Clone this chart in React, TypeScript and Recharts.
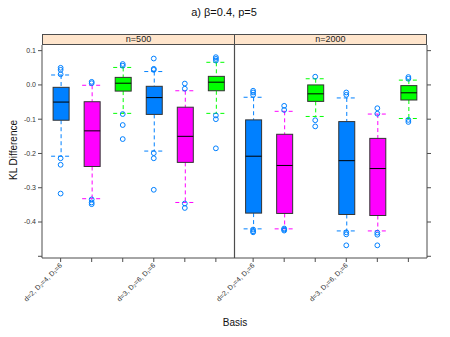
import React from 'react';
import { ComposedChart, Bar, Scatter, XAxis, YAxis, ReferenceLine } from 'recharts';

const panels = ['n=500', 'n=2000'];
const basisLabels = ['d=2, D₂=4, D₁=6', 'd=3, D₂=6, D₁=6'];
const boxColors = ['#0080ff', '#ff00ff', '#00ff00'];
const yTicks = [0.1, 0, -0.1, -0.2, -0.3, -0.4, -0.5];

// 12 boxes: n=500 (6) then n=2000 (6); each basis has 3 methods (blue, magenta, green)
const lowerWhisker = [-0.208, -0.332, -0.083, -0.193, -0.343, -0.083, -0.42, -0.42, -0.092, -0.426, -0.426, -0.098];
const q1 = [-0.103, -0.238, -0.018, -0.086, -0.226, -0.017, -0.374, -0.375, -0.048, -0.378, -0.381, -0.044];
const median = [-0.05, -0.134, 0.005, -0.037, -0.15, 0.008, -0.208, -0.235, -0.026, -0.221, -0.244, -0.023];
const q3 = [-0.007, -0.049, 0.022, -0.004, -0.065, 0.025, -0.102, -0.144, 0.0, -0.107, -0.156, -0.002];
const upperWhisker = [0.029, -0.001, 0.051, 0.039, -0.017, 0.066, -0.036, -0.077, 0.018, -0.038, -0.085, 0.014];
const outliers = [
  [0.05, 0.044, 0.031, -0.214, -0.233, -0.317],
  [0.009, 0.005, -0.334, -0.343, -0.348],
  [0.061, 0.056, -0.085, -0.117, -0.158],
  [0.077, 0.047, 0.044, -0.199, -0.214, -0.306],
  [0.004, -0.011, -0.346, -0.359],
  [0.081, 0.076, 0.071, -0.089, -0.1, -0.185],
  [-0.017, -0.022, -0.029, -0.422, -0.427, -0.43],
  [-0.061, -0.073, -0.419, -0.422, -0.425],
  [0.024, -0.103, -0.121],
  [-0.022, -0.029, -0.43, -0.436, -0.468],
  [-0.068, -0.084, -0.431, -0.437, -0.468],
  [0.023, 0.018, -0.102, -0.108],
];

// panel i spans [0.4, 6.6] shifted by 6.2 per panel
const xPos = (i: number) => Math.floor(i / 6) * 6.2 + (i % 6) + 1;

const boxRows = q1.map((_, i) => ({
  x: xPos(i),
  range: [lowerWhisker[i], upperWhisker[i]],
  lo: lowerWhisker[i],
  hi: upperWhisker[i],
  q1: q1[i],
  med: median[i],
  q3: q3[i],
  color: boxColors[i % 3],
}));

const outlierPoints = outliers.flatMap((vals, i) => vals.map((y) => ({ x: xPos(i), y })));

const xTicks = q1.map((_, i) => xPos(i));
const tickLabel = (v: number) => {
  const i = xTicks.findIndex((t) => Math.abs(t - v) < 1e-6);
  if (i < 0 || i % 3 !== 0) return '';
  return basisLabels[Math.floor((i % 6) / 3)];
};

const frame = '#4d4d4d';
const font = '"Liberation Sans", Arial, sans-serif';

// eslint-disable-next-line @typescript-eslint/no-explicit-any
const BoxShape = (props: any) => {
  const { x, y, width, height, payload } = props;
  const top = Math.min(y, y + height);
  const bottom = Math.max(y, y + height);
  const span = payload.hi - payload.lo;
  const py = (v: number) => (span === 0 ? top : top + ((payload.hi - v) / span) * (bottom - top));
  const cx = x + width / 2;
  const dash = '4 3';
  return (
    <g>
      <line x1={cx} x2={cx} y1={top} y2={py(payload.q3)} stroke={payload.color} strokeDasharray={dash} />
      <line x1={cx} x2={cx} y1={py(payload.q1)} y2={bottom} stroke={payload.color} strokeDasharray={dash} />
      <line x1={x - 2} x2={x + width + 2} y1={top} y2={top} stroke={payload.color} strokeDasharray={dash} />
      <line x1={x - 2} x2={x + width + 2} y1={bottom} y2={bottom} stroke={payload.color} strokeDasharray={dash} />
      <rect
        x={x}
        y={py(payload.q3)}
        width={width}
        height={py(payload.q1) - py(payload.q3)}
        fill={payload.color}
        stroke="#333"
        strokeWidth={1}
      />
      <line x1={x} x2={x + width} y1={py(payload.med)} y2={py(payload.med)} stroke="#000" strokeWidth={1} />
    </g>
  );
};

// eslint-disable-next-line @typescript-eslint/no-explicit-any
const BasisTick = ({ x, y, payload }: any) => {
  const label = tickLabel(payload.value);
  if (!label) return null;
  return (
    <text
      transform={`translate(${x + 2},${y + 2}) rotate(-45)`}
      textAnchor="end"
      fontSize={7}
      fontFamily={font}
      fill="#333"
    >
      {label}
    </text>
  );
};

export default function App() {
  return (
    <div style={{ position: 'absolute', left: 0, top: 0, width: 450, height: 337, background: '#fff', fontFamily: font }}>
      <div style={{ position: 'absolute', left: 224, top: 12, transform: 'translate(-50%,-50%)', fontSize: 11, color: '#111', whiteSpace: 'nowrap' }}>
        a) β=0.4, p=5
      </div>
      <ComposedChart
        width={450}
        height={337}
        data={boxRows}
        margin={{ top: 45, right: 0, bottom: 0, left: 0 }}
      >
        <XAxis
          dataKey="x"
          type="number"
          domain={[0.4, 12.8]}
          ticks={xTicks}
          interval={0}
          tick={<BasisTick />}
          tickSize={4}
          height={79}
          stroke={frame}
          allowDataOverflow
        />
        <YAxis
          yAxisId="l"
          domain={[-0.505, 0.1165]}
          ticks={yTicks}
          interval={0}
          width={42}
          tickSize={4}
          stroke={frame}
          tick={{ fontSize: 7, fill: '#333', fontFamily: font }}
          tickFormatter={(v: number) => (Math.abs(v + 0.5) < 1e-6 ? '' : v.toFixed(1))}
          allowDataOverflow
        />
        <YAxis
          yAxisId="r"
          orientation="right"
          domain={[-0.505, 0.1165]}
          ticks={yTicks}
          interval={0}
          width={23}
          tickSize={4}
          stroke={frame}
          tickFormatter={() => ''}
          allowDataOverflow
        />
        <ReferenceLine x={6.6} yAxisId="l" stroke={frame} strokeWidth={1.2} />
        <Bar yAxisId="l" dataKey="range" barSize={16} shape={<BoxShape />} isAnimationActive={false} />
        <Scatter
          yAxisId="l"
          data={outlierPoints}
          dataKey="y"
          isAnimationActive={false}
          // eslint-disable-next-line @typescript-eslint/no-explicit-any
          shape={(p: any) => <circle cx={p.cx} cy={p.cy} r={2.4} fill="none" stroke="#0080ff" strokeWidth={1} />}
        />
      </ComposedChart>
      <div style={{ position: 'absolute', left: 42, top: 34, width: 385, height: 11, display: 'flex', boxSizing: 'border-box', border: `1px solid ${frame}`, background: '#ffe5cc' }}>
        {panels.map((p, i) => (
          <div
            key={p}
            style={{ flex: 1, fontSize: 9, lineHeight: '9px', textAlign: 'center', color: '#222', borderLeft: i > 0 ? `1px solid ${frame}` : 'none' }}
          >
            {p}
          </div>
        ))}
      </div>
      <div style={{ position: 'absolute', left: 13, top: 150, transform: 'translate(-50%,-50%) rotate(-90deg)', fontSize: 10, color: '#111', whiteSpace: 'nowrap' }}>
        KL Difference
      </div>
      <div style={{ position: 'absolute', left: 235, top: 322, transform: 'translate(-50%,-50%)', fontSize: 10, color: '#111', whiteSpace: 'nowrap' }}>
        Basis
      </div>
    </div>
  );
}
